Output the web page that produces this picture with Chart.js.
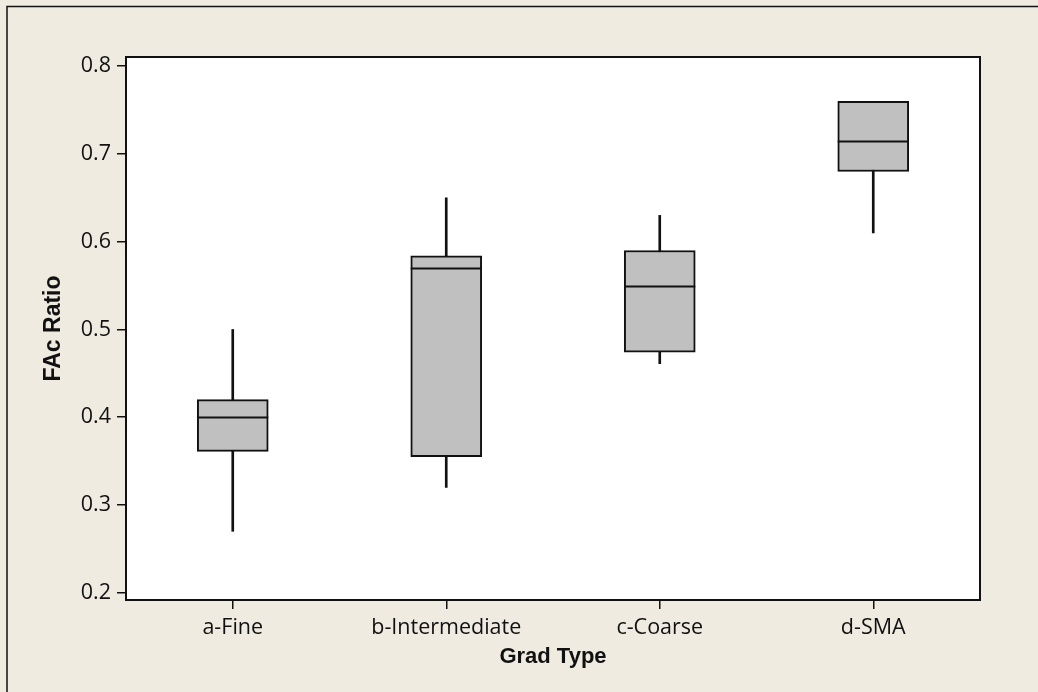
<!DOCTYPE html>
<html>
<head>
<meta charset="utf-8">
<script src="https://cdn.jsdelivr.net/npm/chart.js@4.4.1/dist/chart.umd.min.js"></script>
<style>
  html, body { margin: 0; padding: 0; background: #efebe1; }
  #wrap { width: 1038px; height: 692px; }
</style>
</head>
<body>
<div id="wrap"><canvas id="boxChart"></canvas></div>
<script>
// Waarden
const gradTypes = ["a-Fine", "b-Intermediate", "c-Coarse", "d-SMA"];
const whiskerLow = [0.27, 0.32, 0.461, 0.61];
const quart1 = [0.361, 0.355, 0.474, 0.68];
const medians = [0.40, 0.57, 0.549, 0.715];
const quart3 = [0.42, 0.584, 0.59, 0.76];
const whiskerHigh = [0.50, 0.65, 0.63, 0.76];
const yTickValues = [0.2, 0.3, 0.4, 0.5, 0.6, 0.7, 0.8];

// Achtergrond, wit plotvlak en kaders
const framePlugin = {
  id: "frame",
  beforeDraw(chart) {
    const { ctx, chartArea: a, width, height } = chart;
    ctx.save();
    ctx.fillStyle = "#efebe1";
    ctx.fillRect(0, 0, width, height);
    ctx.fillStyle = "#ffffff";
    ctx.fillRect(a.left, a.top, a.right - a.left, a.bottom - a.top);
    ctx.strokeStyle = "#111";
    ctx.lineWidth = 1.5;
    ctx.beginPath();
    ctx.moveTo(7, height);
    ctx.lineTo(7, 6.5);
    ctx.lineTo(width, 6.5);
    ctx.stroke();
    ctx.restore();
  },
  afterDraw(chart) {
    const { ctx, chartArea: a } = chart;
    ctx.save();
    ctx.strokeStyle = "#111";
    ctx.lineWidth = 2;
    ctx.strokeRect(a.left, a.top, a.right - a.left, a.bottom - a.top);
    ctx.restore();
  }
};

// Mediaanlijnen over de boxen
const medianPlugin = {
  id: "medianLines",
  afterDatasetsDraw(chart) {
    const { ctx } = chart;
    const meta = chart.getDatasetMeta(1);
    const y = chart.scales.y;
    ctx.save();
    ctx.strokeStyle = "#111";
    ctx.lineWidth = 2;
    meta.data.forEach((bar, i) => {
      const py = Math.round(y.getPixelForValue(medians[i])) + 0.5;
      ctx.beginPath();
      ctx.moveTo(bar.x - bar.width / 2, py);
      ctx.lineTo(bar.x + bar.width / 2, py);
      ctx.stroke();
    });
    ctx.restore();
  }
};

const ctx = document.getElementById("boxChart").getContext("2d");
new Chart(ctx, {
  type: "bar",
  data: {
    labels: gradTypes,
    datasets: [
      {
        label: "whiskers",
        data: gradTypes.map((_, i) => [whiskerLow[i], whiskerHigh[i]]),
        backgroundColor: "#111",
        borderWidth: 0,
        barThickness: 2,
        grouped: false,
        order: 2
      },
      {
        label: "box",
        data: gradTypes.map((_, i) => [quart1[i], quart3[i]]),
        backgroundColor: "#c0c0c0",
        borderColor: "#111",
        borderWidth: 2,
        borderSkipped: false,
        barThickness: 71,
        grouped: false,
        order: 1
      }
    ]
  },
  options: {
    responsive: true,
    maintainAspectRatio: false,
    animation: false,
    layout: { padding: { top: 57, right: 58, left: 0, bottom: 0 } },
    plugins: { legend: { display: false }, tooltip: { enabled: false } },
    scales: {
      x: {
        offset: true,
        afterFit: (s) => { s.height = 92; },
        grid: { offset: false, drawOnChartArea: false, drawTicks: true, tickLength: 9, color: "#111", lineWidth: 1.5 },
        border: { display: false },
        ticks: { color: "#111", padding: 6, font: { family: "Open Sans", size: 21.5 } },
        title: {
          display: true,
          text: "Grad Type",
          color: "#111",
          font: { family: "Liberation Sans", size: 22, weight: "bold" },
          padding: { top: 0, bottom: 22 }
        }
      },
      y: {
        min: 0.1917,
        max: 0.8105,
        afterFit: (s) => { s.width = 126; },
        afterBuildTicks: (s) => { s.ticks = yTickValues.map((v) => ({ value: v })); },
        grid: { drawOnChartArea: false, drawTicks: true, tickLength: 9, color: "#111", lineWidth: 1.5 },
        border: { display: false },
        ticks: {
          color: "#111",
          padding: 6,
          font: { family: "Open Sans", size: 21.5 },
          callback: (v) => Number(v).toFixed(1)
        },
        title: {
          display: true,
          text: "FAc Ratio",
          color: "#111",
          font: { family: "Liberation Sans", size: 23, weight: "bold" },
          padding: { top: 40, bottom: 0 }
        }
      }
    }
  },
  plugins: [framePlugin, medianPlugin]
});
</script>
</body>
</html>
